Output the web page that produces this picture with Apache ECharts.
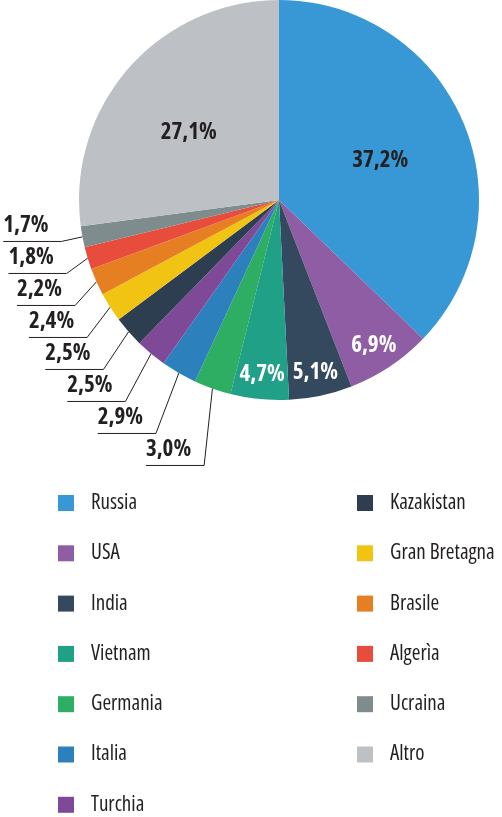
<!DOCTYPE html>
<html><head><meta charset="utf-8">
<script src="https://cdn.jsdelivr.net/npm/echarts@6/dist/echarts.min.js"></script>
<style>html,body{margin:0;padding:0;background:#fff}#c{width:502px;height:817px}</style>
</head><body><div id="c"></div>
<script>
const categories = ['Russia','USA','India','Vietnam','Germania','Italia','Turchia','Kazakistan','Gran Bretagna','Brasile','Algerìa','Ucraina','Altro'];
const shares = [37.2, 6.9, 5.1, 4.7, 3.0, 2.9, 2.5, 2.5, 2.4, 2.2, 1.8, 1.7, 27.1];
const colors = ['#3898d6','#8e5da4','#34495e','#20a086','#2eae62','#2c81bd','#7e4a97','#2c3e50','#f1c414','#e67e22','#e74c3c','#7f8c8d','#bdc1c5'];
const legendLeft = categories.slice(0, 7);
const legendRight = categories.slice(7);

// pick the narrowest installed sans font (the original uses a condensed face)
function pickFont() {
  const ctx = document.createElement('canvas').getContext('2d');
  const cands = [
    ['', "'Liberation Sans Narrow'"],
    ['', "'DejaVu Sans Condensed'"],
    ['', "'Roboto Condensed'"],
    ['', "'Open Sans Condensed'"],
    ['condensed', "'Open Sans'"],
    ['condensed', "'Noto Sans'"],
    ['condensed', "Roboto"],
    ['condensed', "'DejaVu Sans'"],
    ['', "'Liberation Sans'"]
  ];
  let best = ['', "'Liberation Sans'"], bw = 1e9;
  cands.forEach(([st, fam]) => {
    ctx.font = '20px monospace';
    const before = ctx.font;
    ctx.font = (st ? st + ' ' : '') + '20px ' + fam + ', monospace';
    if (ctx.font === before) return;
    const w = ctx.measureText('Gran Bretagna Kazakistan 27,1%').width;
    if (w < bw - 0.5) { bw = w; best = [st, fam]; }
  });
  return best;
}
const [STRETCH, FAMILY] = pickFont();
const FONT = FAMILY + ", 'Liberation Sans', sans-serif";

const CX = 279, CY = 200, R = 200;
const LABEL_SIZE = 23;
// inside labels: radius ratio and a small nudge [dx, dy]
const insideRatio = {0: 0.55, 1: 0.855, 2: 0.87, 3: 0.87, 12: 0.56};
const insideNudge = {0: [0, 4], 1: [0, 3], 2: [0, 2], 3: [0, 1], 12: [-6, 6]};
const darkInside = [0, 12];

const total = shares.reduce((a, b) => a + b, 0);
const midAngle = [];
let acc = 0;
shares.forEach(v => { midAngle.push((acc + v / 2) / total * 360); acc += v; });

const fmt = p => p.value.toFixed(1).replace('.', ',') + '%';
const mctx = document.createElement('canvas').getContext('2d');
function textW(s, size, weight) {
  mctx.font = [STRETCH, weight, size + 'px', FONT].filter(Boolean).join(' ');
  return mctx.measureText(s).width;
}

const chart = echarts.init(document.getElementById('c'), null, {renderer: 'canvas'});
chart.setOption({
  animation: false,
  color: colors,
  legend: [legendLeft, legendRight].map((d, k) => ({
    data: d, orient: 'vertical', left: k ? 357 : 58, top: 492.5, height: 400, padding: 0,
    itemWidth: 16, itemHeight: 16, itemGap: 29.3, icon: 'rect', selectedMode: false,
    textStyle: {fontFamily: FONT, fontStyle: STRETCH || 'normal', fontSize: 21, lineHeight: 21,
                color: '#231f20', padding: [0, 0, 0, 12]}
  })),
  series: [{
    type: 'pie',
    center: [CX, CY], radius: [0, R],
    startAngle: 90, clockwise: true,
    avoidLabelOverlap: true,
    label: {
      show: true, position: 'outside', formatter: fmt, width: 70, overflow: 'none',
      fontFamily: FONT, fontStyle: STRETCH || 'normal', fontSize: LABEL_SIZE, fontWeight: 'bold',
      color: '#231f20', lineHeight: 30
    },
    labelLine: {show: true, length: 25, length2: 40, smooth: false, lineStyle: {color: '#231f20', width: 1}},
    labelLayout: function (p) {
      const i = p.dataIndex;
      if (insideRatio[i] != null) {
        const a = midAngle[i] * Math.PI / 180, rr = insideRatio[i] * R;
        const n = insideNudge[i] || [0, 0];
        return {x: CX + rr * Math.sin(a) + n[0], y: CY - rr * Math.cos(a) + n[1], align: 'center', verticalAlign: 'middle'};
      }
      const pts = p.labelLinePoints;
      if (!pts) return {};
      const p0 = pts[0], p1 = pts[1];
      const w = textW(p.text, LABEL_SIZE, 'bold') + 13;
      return {x: p1[0] - w, y: p1[1] - 1, align: 'left', verticalAlign: 'bottom',
              labelLinePoints: [p0, p1, [p1[0] - w, p1[1]]]};
    },
    data: categories.map((n, i) => ({
      name: n, value: shares[i],
      label: insideRatio[i] != null
        ? {position: 'inside', color: darkInside.includes(i) ? '#231f20' : '#ffffff', lineHeight: 24}
        : {position: 'outside'},
      labelLine: {show: insideRatio[i] == null}
    }))
  }]
});
</script></body></html>
